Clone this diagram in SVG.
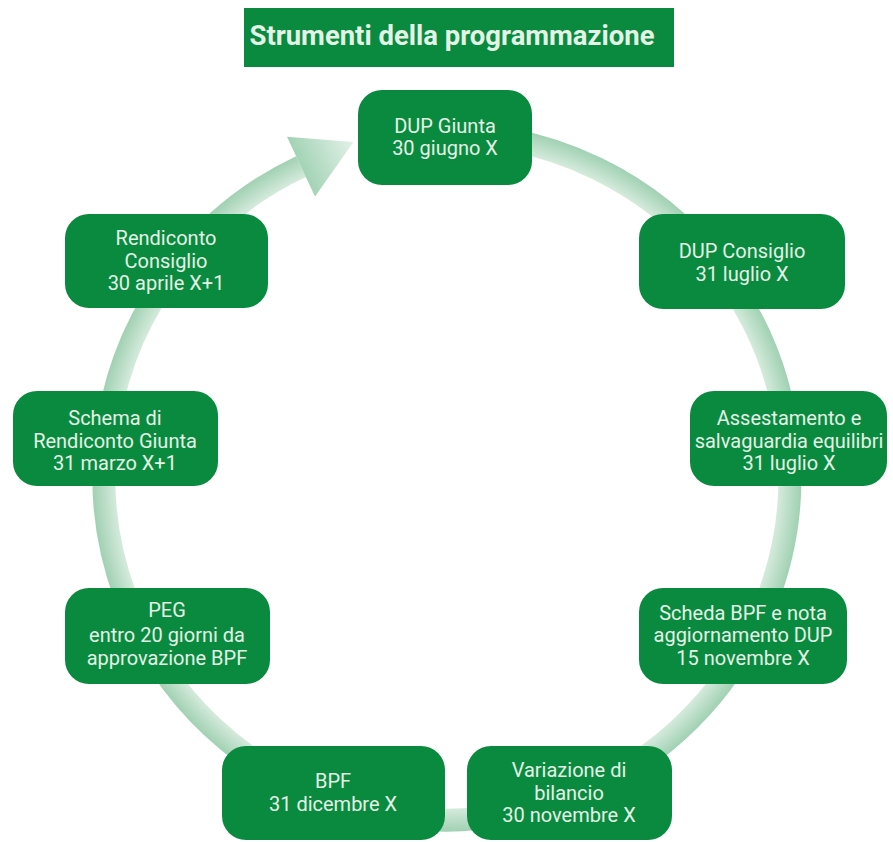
<svg xmlns="http://www.w3.org/2000/svg" width="893" height="842" viewBox="0 0 893 842">
<defs>
<radialGradient id="ringGrad" gradientUnits="userSpaceOnUse" cx="447" cy="477" r="356">
<stop offset="0.93" stop-color="#d6ebdd"/>
<stop offset="1" stop-color="#9dcfb0"/>
</radialGradient>
<linearGradient id="headGrad" gradientUnits="userSpaceOnUse" x1="301" y1="166" x2="354" y2="142">
<stop offset="0" stop-color="#a3d3b6"/>
<stop offset="1" stop-color="#e3f2e8"/>
</linearGradient>
<style>
.node rect { fill: #0a8a3f; }
.node text { fill: #e3f3e6; font-family: Roboto, "Liberation Sans", sans-serif; font-size: 20px; text-anchor: middle; }
.title text { fill: #e3f3e6; font-family: Roboto, "Liberation Sans", sans-serif; font-size: 27px; font-weight: bold; text-anchor: middle; }
</style>
</defs>
<g id="title" class="title">
<rect x="244" y="8" width="430" height="59" fill="#0a8a3f"/>
<text x="452" y="45" textLength="405" lengthAdjust="spacingAndGlyphs">Strumenti della programmazione</text>
</g>
<g id="connectors">
<path d="M 447 134 A 343 343 0 1 1 301 166.6" fill="none" stroke="url(#ringGrad)" stroke-width="23"/>
<polygon points="287,136.7 353.5,141.9 315,196.5" fill="url(#headGrad)"/>
</g>
<g id="dup-giunta" class="node">
<rect x="358" y="90" width="174" height="95" rx="24"/>
<text x="445" y="133">DUP Giunta</text>
<text x="445" y="155">30 giugno X</text>
</g>
<g id="dup-consiglio" class="node">
<rect x="639" y="214" width="206" height="95" rx="24"/>
<text x="742" y="258">DUP Consiglio</text>
<text x="742" y="281">31 luglio X</text>
</g>
<g id="assestamento" class="node">
<rect x="690" y="391" width="197" height="95" rx="24"/>
<text x="789" y="425">Assestamento e</text>
<text x="789" y="448">salvaguardia equilibri</text>
<text x="789" y="470">31 luglio X</text>
</g>
<g id="scheda-bpf" class="node">
<rect x="639" y="588" width="208" height="96" rx="24"/>
<text x="743" y="620">Scheda BPF e nota</text>
<text x="743" y="642">aggiornamento DUP</text>
<text x="743" y="665">15 novembre X</text>
</g>
<g id="variazione" class="node">
<rect x="467" y="746" width="205" height="94" rx="24"/>
<text x="569" y="777">Variazione di</text>
<text x="569" y="800">bilancio</text>
<text x="569" y="822">30 novembre X</text>
</g>
<g id="bpf" class="node">
<rect x="222" y="746" width="223" height="94" rx="24"/>
<text x="333" y="788">BPF</text>
<text x="333" y="811">31 dicembre X</text>
</g>
<g id="peg" class="node">
<rect x="65" y="588" width="205" height="96" rx="24"/>
<text x="167" y="617">PEG</text>
<text x="167" y="642">entro 20 giorni da</text>
<text x="167" y="665">approvazione BPF</text>
</g>
<g id="schema-rendiconto" class="node">
<rect x="13" y="391" width="205" height="95" rx="24"/>
<text x="115" y="425">Schema di</text>
<text x="115" y="448">Rendiconto Giunta</text>
<text x="115" y="470">31 marzo X+1</text>
</g>
<g id="rendiconto-consiglio" class="node">
<rect x="65" y="214" width="203" height="94" rx="24"/>
<text x="166" y="245">Rendiconto</text>
<text x="166" y="268">Consiglio</text>
<text x="166" y="290">30 aprile X+1</text>
</g>
</svg>
